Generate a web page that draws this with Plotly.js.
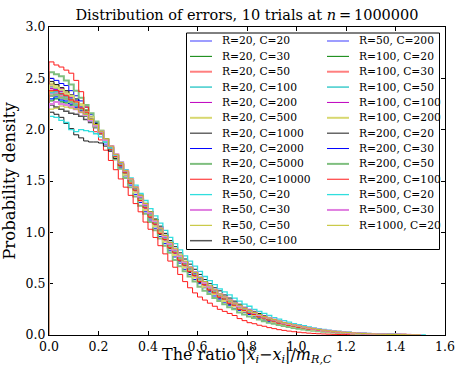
<!DOCTYPE html>
<html>
<head>
<meta charset="utf-8">
<script src="https://cdn.plot.ly/plotly-3.0.1.min.js"></script>
<style>html,body{margin:0;padding:0;background:#fff;}#chart{width:457px;height:369px;}</style>
</head>
<body>
<div id="chart"></div>
<script>
// ---- data: density per bin (bin width 0.02, starting at 0) ----
const BIN_WIDTH = 0.02;
const labels = ["R=20, C=20","R=20, C=30","R=20, C=50","R=20, C=100","R=20, C=200","R=20, C=500","R=20, C=1000","R=20, C=2000","R=20, C=5000","R=20, C=10000","R=50, C=20","R=50, C=30","R=50, C=50","R=50, C=100","R=50, C=200","R=100, C=20","R=100, C=30","R=100, C=50","R=100, C=100","R=100, C=200","R=200, C=20","R=200, C=30","R=200, C=50","R=200, C=100","R=500, C=20","R=500, C=30","R=1000, C=20"];

const s_R20_C20 = [2.33,2.35,2.31,2.30,2.27,2.25,2.19,2.16,2.08,2.03,1.96,1.86,1.80,1.73,1.63,1.57,1.50,1.40,1.33,1.25,1.17,1.09,1.02,.94,.88,.81,.76,.70,.64,.59,.55,.50,.46,.43,.39,.36,.33,.30,.27,.25,.23,.21,.19,.17,.155,.14,.125,.11,.10,.09,.08,.072,.063,.056,.049,.043,.037,.032,.028,.024,.021,.018,.015,.012,.010,.008,.007,.006,.004,.003,.002,.002,.001];
const s_R20_C30 = [2.36,2.38,2.34,2.32,2.31,2.25,2.23,2.15,2.12,2.02,1.98,1.88,1.83,1.73,1.67,1.56,1.50,1.40,1.33,1.23,1.17,1.07,1.01,.92,.87,.79,.75,.67,.64,.57,.54,.48,.46,.40,.38,.34,.33,.28,.27,.23,.22,.19,.18,.16,.15,.13,.12,.105,.098,.085,.077,.068,.06,.053,.046,.04,.035,.03,.026,.022,.019,.016,.013,.011,.009,.007,.006,.005,.004,.003,.002,.001,.001];
const s_R20_C50 = [2.40,2.38,2.39,2.34,2.31,2.28,2.21,2.18,2.10,2.05,1.96,1.91,1.81,1.75,1.65,1.59,1.48,1.42,1.31,1.25,1.15,1.09,.99,.94,.85,.81,.73,.69,.62,.59,.52,.50,.44,.42,.37,.35,.31,.29,.25,.24,.21,.20,.17,.165,.145,.135,.115,.108,.093,.087,.075,.069,.058,.054,.045,.041,.034,.031,.026,.023,.019,.017,.013,.012,.009,.008,.006,.006,.004,.004,.002,.002,.001];
const s_R20_C100 = [2.42,2.40,2.37,2.36,2.31,2.29,2.23,2.17,2.12,2.04,1.98,1.89,1.83,1.73,1.67,1.57,1.50,1.40,1.33,1.23,1.16,1.07,1.00,.92,.86,.79,.74,.67,.63,.57,.53,.48,.45,.40,.38,.34,.32,.28,.26,.23,.22,.19,.18,.16,.15,.13,.12,.105,.097,.085,.078,.067,.061,.052,.047,.04,.036,.03,.027,.022,.02,.016,.014,.011,.01,.008,.007,.005,.005,.003,.003,.002,.001,.001];
const s_R20_C200 = [2.44,2.41,2.40,2.36,2.33,2.28,2.24,2.18,2.11,2.05,1.97,1.90,1.81,1.74,1.65,1.57,1.48,1.40,1.31,1.23,1.15,1.07,.99,.92,.85,.79,.73,.67,.62,.57,.52,.48,.44,.40,.37,.34,.31,.28,.25,.23,.21,.19,.17,.16,.145,.13,.115,.104,.093,.083,.074,.066,.058,.051,.045,.039,.034,.029,.025,.021,.018,.015,.013,.011,.009,.007,.006,.005,.004,.003,.002,.001,.001];
const s_R20_C500 = [2.45,2.43,2.38,2.37,2.32,2.27,2.25,2.19,2.12,2.06,1.99,1.91,1.83,1.75,1.66,1.58,1.49,1.41,1.32,1.24,1.15,1.08,.99,.93,.85,.80,.73,.68,.62,.58,.52,.49,.44,.41,.37,.35,.31,.29,.25,.24,.21,.20,.17,.165,.145,.135,.115,.107,.094,.085,.075,.067,.059,.052,.045,.04,.034,.03,.026,.022,.019,.016,.013,.011,.009,.008,.006,.005,.004,.003,.002,.002,.001];
const s_R20_C1000 = [2.47,2.44,2.41,2.38,2.34,2.30,2.24,2.19,2.13,2.06,1.99,1.90,1.83,1.74,1.65,1.57,1.48,1.39,1.31,1.22,1.14,1.06,.98,.91,.84,.78,.72,.66,.61,.56,.51,.47,.43,.40,.36,.33,.30,.28,.25,.23,.21,.19,.17,.155,.14,.125,.112,.10,.09,.08,.072,.064,.056,.05,.044,.038,.033,.029,.025,.021,.018,.015,.013,.011,.009,.007,.006,.005,.004,.003,.002,.001,.001];
const s_R20_C2000 = [2.50,2.48,2.45,2.43,2.38,2.33,2.28,2.22,2.15,2.07,1.99,1.91,1.82,1.73,1.64,1.55,1.46,1.37,1.29,1.20,1.12,1.04,.96,.89,.82,.76,.70,.64,.59,.54,.50,.46,.42,.38,.35,.32,.29,.26,.24,.22,.20,.18,.16,.145,.13,.12,.105,.095,.085,.075,.067,.059,.052,.046,.04,.035,.031,.027,.023,.02,.017,.014,.012,.01,.008,.007,.006,.005,.004,.003,.002,.001,.001];
const s_R20_C5000 = [2.56,2.54,2.52,2.48,2.44,2.38,2.31,2.24,2.16,2.08,1.99,1.90,1.81,1.71,1.62,1.53,1.44,1.35,1.26,1.18,1.10,1.02,.94,.87,.80,.73,.67,.62,.57,.52,.47,.43,.40,.36,.33,.30,.27,.25,.22,.20,.18,.165,.15,.135,.12,.11,.097,.087,.077,.068,.06,.053,.047,.041,.036,.031,.027,.024,.02,.017,.015,.012,.01,.009,.007,.006,.005,.004,.003,.002,.002,.001];
const s_R20_C10000 = [2.66,2.63,2.61,2.58,2.55,2.48,2.37,2.22,2.09,1.98,1.90,1.80,1.70,1.61,1.52,1.44,1.36,1.28,1.20,1.10,1.03,.95,.87,.79,.72,.66,.59,.52,.46,.41,.37,.34,.31,.28,.25,.23,.21,.19,.16,.14,.12,.11,.095,.085,.072,.062,.052,.045,.038,.032,.027,.022,.018,.015,.012,.01,.008,.006,.005,.004,.003,.002,.002,.001];
const s_R50_C20 = [2.30,2.31,2.28,2.27,2.24,2.22,2.17,2.14,2.08,2.02,1.96,1.88,1.82,1.74,1.66,1.59,1.51,1.43,1.35,1.27,1.19,1.11,1.04,.96,.90,.83,.77,.71,.66,.61,.56,.52,.47,.44,.40,.37,.34,.31,.28,.26,.24,.22,.20,.18,.16,.145,.13,.12,.105,.095,.085,.076,.067,.06,.052,.046,.04,.035,.031,.027,.023,.02,.017,.014,.012,.01,.008,.007,.006,.005,.004,.003,.002,.002,.001,.001];
const s_R50_C30 = [2.35,2.36,2.33,2.31,2.29,2.26,2.21,2.17,2.10,2.04,1.97,1.89,1.82,1.73,1.66,1.57,1.50,1.41,1.33,1.24,1.17,1.08,1.01,.93,.87,.80,.75,.68,.64,.58,.54,.49,.46,.41,.39,.35,.33,.29,.27,.24,.225,.20,.185,.165,.155,.135,.125,.108,.10,.087,.08,.07,.062,.055,.048,.042,.037,.032,.028,.024,.021,.018,.015,.012,.01,.008,.007,.006,.005,.004,.003,.002,.001,.001];
const s_R50_C50 = [2.37,2.38,2.35,2.34,2.30,2.27,2.21,2.18,2.10,2.05,1.96,1.91,1.81,1.75,1.65,1.59,1.48,1.42,1.31,1.25,1.15,1.09,.99,.94,.85,.81,.73,.69,.62,.59,.52,.50,.44,.42,.37,.36,.31,.30,.25,.245,.21,.205,.175,.17,.145,.14,.115,.11,.095,.09,.077,.07,.06,.055,.046,.042,.035,.032,.026,.024,.019,.017,.014,.012,.01,.008,.007,.006,.005,.004,.003,.002,.001,.001];
const s_R50_C100 = [2.24,2.22,2.20,2.18,2.16,2.15,2.13,2.10,2.07,2.02,1.97,1.90,1.83,1.75,1.68,1.60,1.52,1.44,1.36,1.28,1.20,1.12,1.04,.97,.90,.83,.77,.71,.66,.61,.56,.51,.47,.44,.40,.37,.34,.31,.28,.26,.23,.21,.195,.18,.16,.145,.13,.115,.105,.093,.083,.074,.065,.058,.051,.045,.039,.034,.03,.026,.022,.019,.016,.013,.011,.009,.008,.006,.005,.004,.003,.002,.002,.001];
const s_R50_C200 = [2.42,2.39,2.38,2.35,2.31,2.27,2.23,2.17,2.12,2.04,1.98,1.89,1.82,1.73,1.66,1.57,1.49,1.40,1.32,1.23,1.16,1.07,1.00,.92,.86,.79,.74,.67,.63,.57,.53,.48,.45,.40,.38,.34,.32,.28,.26,.235,.22,.195,.18,.16,.15,.13,.12,.105,.097,.085,.078,.068,.061,.053,.047,.04,.036,.031,.027,.022,.02,.016,.014,.011,.01,.008,.007,.005,.004,.003,.002,.002,.001];
const s_R100_C20 = [2.28,2.30,2.27,2.26,2.24,2.21,2.18,2.13,2.09,2.03,1.97,1.89,1.83,1.75,1.67,1.59,1.51,1.43,1.35,1.27,1.19,1.11,1.03,.96,.89,.83,.77,.71,.65,.60,.56,.51,.47,.43,.40,.37,.34,.31,.28,.26,.24,.21,.195,.18,.16,.145,.13,.12,.105,.095,.085,.075,.067,.06,.052,.046,.04,.035,.031,.027,.023,.02,.017,.014,.012,.01,.008,.007,.006,.005,.004,.003,.002,.002,.001];
const s_R100_C30 = [2.33,2.34,2.32,2.30,2.28,2.24,2.20,2.16,2.10,2.03,1.97,1.89,1.82,1.74,1.66,1.58,1.50,1.41,1.33,1.25,1.17,1.09,1.01,.94,.87,.81,.75,.69,.64,.59,.54,.50,.46,.42,.39,.36,.33,.30,.27,.25,.225,.205,.185,.17,.155,.14,.125,.112,.10,.09,.08,.071,.063,.056,.049,.043,.037,.032,.028,.024,.021,.018,.015,.012,.01,.008,.007,.006,.005,.004,.003,.002,.001,.001];
const s_R100_C50 = [2.36,2.37,2.35,2.32,2.30,2.26,2.22,2.16,2.11,2.04,1.97,1.90,1.82,1.74,1.66,1.58,1.49,1.41,1.32,1.24,1.16,1.08,1.00,.93,.86,.80,.74,.68,.63,.58,.53,.49,.45,.41,.38,.35,.32,.29,.26,.24,.22,.20,.18,.165,.15,.135,.12,.108,.097,.087,.078,.069,.061,.054,.047,.041,.036,.031,.027,.023,.02,.017,.014,.012,.01,.008,.007,.006,.005,.004,.003,.002,.002,.001,.001];
const s_R100_C100 = [2.40,2.39,2.37,2.34,2.31,2.27,2.22,2.17,2.11,2.04,1.97,1.89,1.82,1.73,1.65,1.57,1.49,1.40,1.32,1.23,1.15,1.08,1.00,.92,.86,.79,.73,.68,.62,.57,.53,.48,.44,.41,.37,.34,.31,.285,.26,.235,.215,.195,.175,.16,.145,.13,.118,.105,.095,.085,.076,.067,.06,.053,.046,.04,.035,.03,.026,.022,.019,.016,.014,.011,.009,.008,.006,.005,.004,.003,.002,.002,.001];
const s_R100_C200 = [2.43,2.41,2.39,2.35,2.33,2.27,2.24,2.17,2.12,2.04,1.98,1.89,1.82,1.73,1.65,1.56,1.49,1.39,1.32,1.22,1.16,1.06,1.00,.91,.86,.78,.74,.66,.63,.56,.53,.47,.45,.40,.38,.33,.32,.28,.26,.23,.22,.19,.18,.16,.15,.13,.12,.104,.096,.084,.077,.066,.06,.052,.046,.04,.035,.03,.026,.022,.019,.016,.013,.011,.009,.007,.006,.005,.004,.003,.002,.001,.001];
const s_R200_C20 = [2.17,2.15,2.12,2.06,2.01,1.95,1.92,1.89,1.88,1.88,1.87,1.84,1.79,1.72,1.65,1.58,1.50,1.43,1.35,1.28,1.20,1.13,1.06,.99,.92,.86,.80,.74,.69,.64,.59,.54,.50,.46,.43,.39,.36,.33,.30,.27,.25,.23,.21,.19,.17,.15,.135,.12,.11,.10,.09,.08,.07,.062,.055,.048,.042,.037,.032,.028,.024,.021,.018,.015,.013,.011,.009,.008,.006,.005,.004,.003,.002,.002,.001];
const s_R200_C30 = [2.30,2.32,2.29,2.28,2.25,2.22,2.19,2.14,2.09,2.03,1.97,1.90,1.83,1.75,1.67,1.59,1.51,1.43,1.34,1.26,1.18,1.10,1.03,.95,.89,.82,.76,.70,.65,.60,.55,.51,.47,.43,.39,.36,.33,.30,.28,.25,.23,.21,.19,.175,.16,.14,.13,.115,.103,.092,.082,.073,.065,.057,.05,.044,.038,.033,.029,.025,.022,.019,.016,.013,.011,.009,.007,.006,.005,.004,.003,.002,.002,.001];
const s_R200_C50 = [2.33,2.34,2.31,2.30,2.27,2.24,2.20,2.15,2.10,2.03,1.96,1.90,1.82,1.74,1.66,1.58,1.50,1.42,1.33,1.25,1.17,1.09,1.02,.94,.87,.81,.75,.69,.64,.59,.54,.50,.46,.42,.39,.35,.33,.30,.27,.25,.225,.205,.185,.17,.155,.14,.125,.11,.10,.09,.08,.071,.063,.055,.049,.043,.037,.032,.028,.024,.021,.018,.015,.012,.01,.008,.007,.006,.005,.004,.003,.002,.001,.001];
const s_R200_C100 = [2.38,2.38,2.35,2.33,2.29,2.27,2.21,2.17,2.10,2.05,1.96,1.90,1.81,1.74,1.65,1.58,1.48,1.41,1.31,1.24,1.15,1.08,.99,.93,.85,.80,.73,.68,.62,.58,.52,.49,.44,.41,.37,.35,.31,.29,.25,.24,.21,.20,.175,.165,.145,.135,.115,.108,.094,.087,.075,.069,.058,.054,.045,.041,.034,.031,.026,.023,.019,.017,.014,.012,.009,.008,.006,.006,.004,.004,.003,.002,.001,.001];
const s_R500_C20 = [2.13,2.12,2.09,2.07,2.00,1.98,2.00,1.99,1.98,1.96,1.93,1.88,1.82,1.75,1.68,1.61,1.53,1.46,1.38,1.31,1.23,1.16,1.09,1.02,.95,.89,.83,.77,.72,.67,.62,.57,.53,.49,.45,.42,.39,.36,.33,.30,.28,.25,.23,.21,.19,.17,.155,.14,.125,.11,.10,.09,.08,.07,.062,.055,.048,.042,.037,.032,.028,.024,.021,.018,.015,.013,.011,.009,.007,.006,.005,.004,.003,.002,.001];
const s_R500_C30 = [2.25,2.27,2.25,2.24,2.22,2.20,2.17,2.14,2.09,2.04,1.98,1.90,1.84,1.76,1.68,1.60,1.52,1.44,1.35,1.27,1.19,1.11,1.04,.96,.89,.83,.77,.71,.66,.61,.56,.51,.47,.44,.40,.37,.34,.31,.28,.26,.24,.22,.195,.18,.165,.15,.135,.12,.108,.097,.087,.077,.068,.06,.053,.047,.041,.036,.031,.027,.023,.02,.017,.014,.012,.01,.008,.007,.006,.005,.004,.003,.002,.001,.001];
const s_R1000_C20 = [2.20,2.21,2.23,2.22,2.21,2.20,2.17,2.15,2.10,2.05,1.98,1.91,1.84,1.76,1.68,1.60,1.52,1.44,1.36,1.28,1.20,1.12,1.04,.97,.90,.84,.78,.72,.66,.61,.56,.52,.48,.44,.40,.37,.34,.31,.29,.26,.24,.22,.20,.18,.165,.15,.135,.12,.11,.098,.088,.078,.069,.061,.054,.047,.041,.036,.031,.027,.023,.02,.017,.014,.012,.01,.008,.007,.006,.005,.004,.003,.002,.001,.001];

const series = [s_R20_C20,s_R20_C30,s_R20_C50,s_R20_C100,s_R20_C200,s_R20_C500,s_R20_C1000,s_R20_C2000,s_R20_C5000,s_R20_C10000,s_R50_C20,s_R50_C30,s_R50_C50,s_R50_C100,s_R50_C200,s_R100_C20,s_R100_C30,s_R100_C50,s_R100_C100,s_R100_C200,s_R200_C20,s_R200_C30,s_R200_C50,s_R200_C100,s_R500_C20,s_R500_C30,s_R1000_C20];

const xTicks = [0,0.2,0.4,0.6,0.8,1.0,1.2,1.4,1.6];
const yTicks = [0,0.5,1.0,1.5,2.0,2.5,3.0];

// ---- styles (colour cycle of 14) ----
const COLORS = ['#5b5bff','#008000','#ff7f7f','#3fcccc','#bf00bf','#d8d870','#1a1a1a','#0000ff','#7fbf7f','#ff1a1a','#30dede','#e07fe0','#bfbf20','#555555'];
const WIDTHS = [1.2,1,2,1.5,1,2,1,1,2,1,1.3,2,1,1.5];

const W = 457, H = 369;
const M = {l:49, r:12, t:27, b:34};
const PW = W - M.l - M.r, PH = H - M.t - M.b;
const px2x = px => (px - M.l) / PW;
const py2y = py => (M.t + PH - py) / PH;
const FONT = "'DejaVu Serif', 'Bitstream Vera Serif', serif";

function stepXY(vals){
  const x=[0], y=[0];
  for(let k=0;k<vals.length;k++){ x.push(k*BIN_WIDTH); y.push(vals[k]); }
  x.push(vals.length*BIN_WIDTH); y.push(0);
  return {x, y};
}

const traces = series.map((vals,i)=>{
  const s = stepXY(vals);
  return {
    type:'scatter', mode:'lines', x:s.x, y:s.y, name:labels[i],
    line:{shape:'hv', color:COLORS[i%14], width:WIDTHS[i%14]},
    hoverinfo:'skip', showlegend:false
  };
});

// ---- manual legend (two columns) ----
const shapes = [{type:'rect', xref:'paper', yref:'paper', x0:px2x(186.5), x1:px2x(439.5), y0:py2y(249.5), y1:py2y(33), line:{color:'#000', width:1}, fillcolor:'#fff', layer:'above'}];
const annotations = [];
const ROWS = 14, ROW0 = 41, ROWH = 15.36;
labels.forEach((lab,i)=>{
  const col = i < ROWS ? 0 : 1;
  const row = i < ROWS ? i : i - ROWS;
  const yy = py2y(ROW0 + row*ROWH);
  const lx0 = col===0 ? 190 : 327, lx1 = lx0 + 22, tx = col===0 ? 220 : 357;
  shapes.push({type:'line', xref:'paper', yref:'paper', x0:px2x(lx0), x1:px2x(lx1), y0:yy, y1:yy, line:{color:COLORS[i%14], width:WIDTHS[i%14]}, layer:'above'});
  annotations.push({xref:'paper', yref:'paper', x:px2x(tx), y:yy, xanchor:'left', yanchor:'middle', text:lab, showarrow:false, font:{family:FONT, size:10.7, color:'#000'}});
});

// x-axis title placed below the tick labels
annotations.push({xref:'paper', yref:'paper', x:0.5, y:py2y(368), xanchor:'center', yanchor:'bottom', showarrow:false,
  text:'The ratio |<i>x\u0302</i><sub><i>i</i></sub>\u2212<i>x</i><sub><i>i</i></sub>|/<i>m</i><sub><i>R,C</i></sub>',
  font:{family:FONT, size:16, color:'#000'}});

const axisCommon = {
  showline:true, linecolor:'#000', linewidth:1, mirror:'allticks',
  ticks:'inside', ticklen:4, tickwidth:1, tickcolor:'#000',
  showgrid:false, zeroline:false, tickformat:'.1f',
  tickfont:{family:FONT, size:12.5, color:'#000'}, layer:'below traces',
  automargin:false, fixedrange:true
};

const layout = {
  width:W, height:H, margin:M, paper_bgcolor:'#fff', plot_bgcolor:'#fff',
  showlegend:false,
  font:{family:FONT, color:'#000'},
  title:{text:'Distribution of errors, 10 trials at <i>n</i>\u2009=\u20091000000', font:{family:FONT, size:14.5, color:'#000'}, x:247/W, xanchor:'center', y:1-15/H, yanchor:'middle'},
  xaxis:Object.assign({}, axisCommon, {range:[0,1.6], tickvals:xTicks}),
  yaxis:Object.assign({}, axisCommon, {range:[0,3.0], tickvals:yTicks,
    title:{text:'Probability density', font:{family:FONT, size:16.5, color:'#000'}}}),
  shapes:shapes, annotations:annotations
};

Plotly.newPlot('chart', traces, layout, {staticPlot:true, displayModeBar:false});
</script>
</body>
</html>
